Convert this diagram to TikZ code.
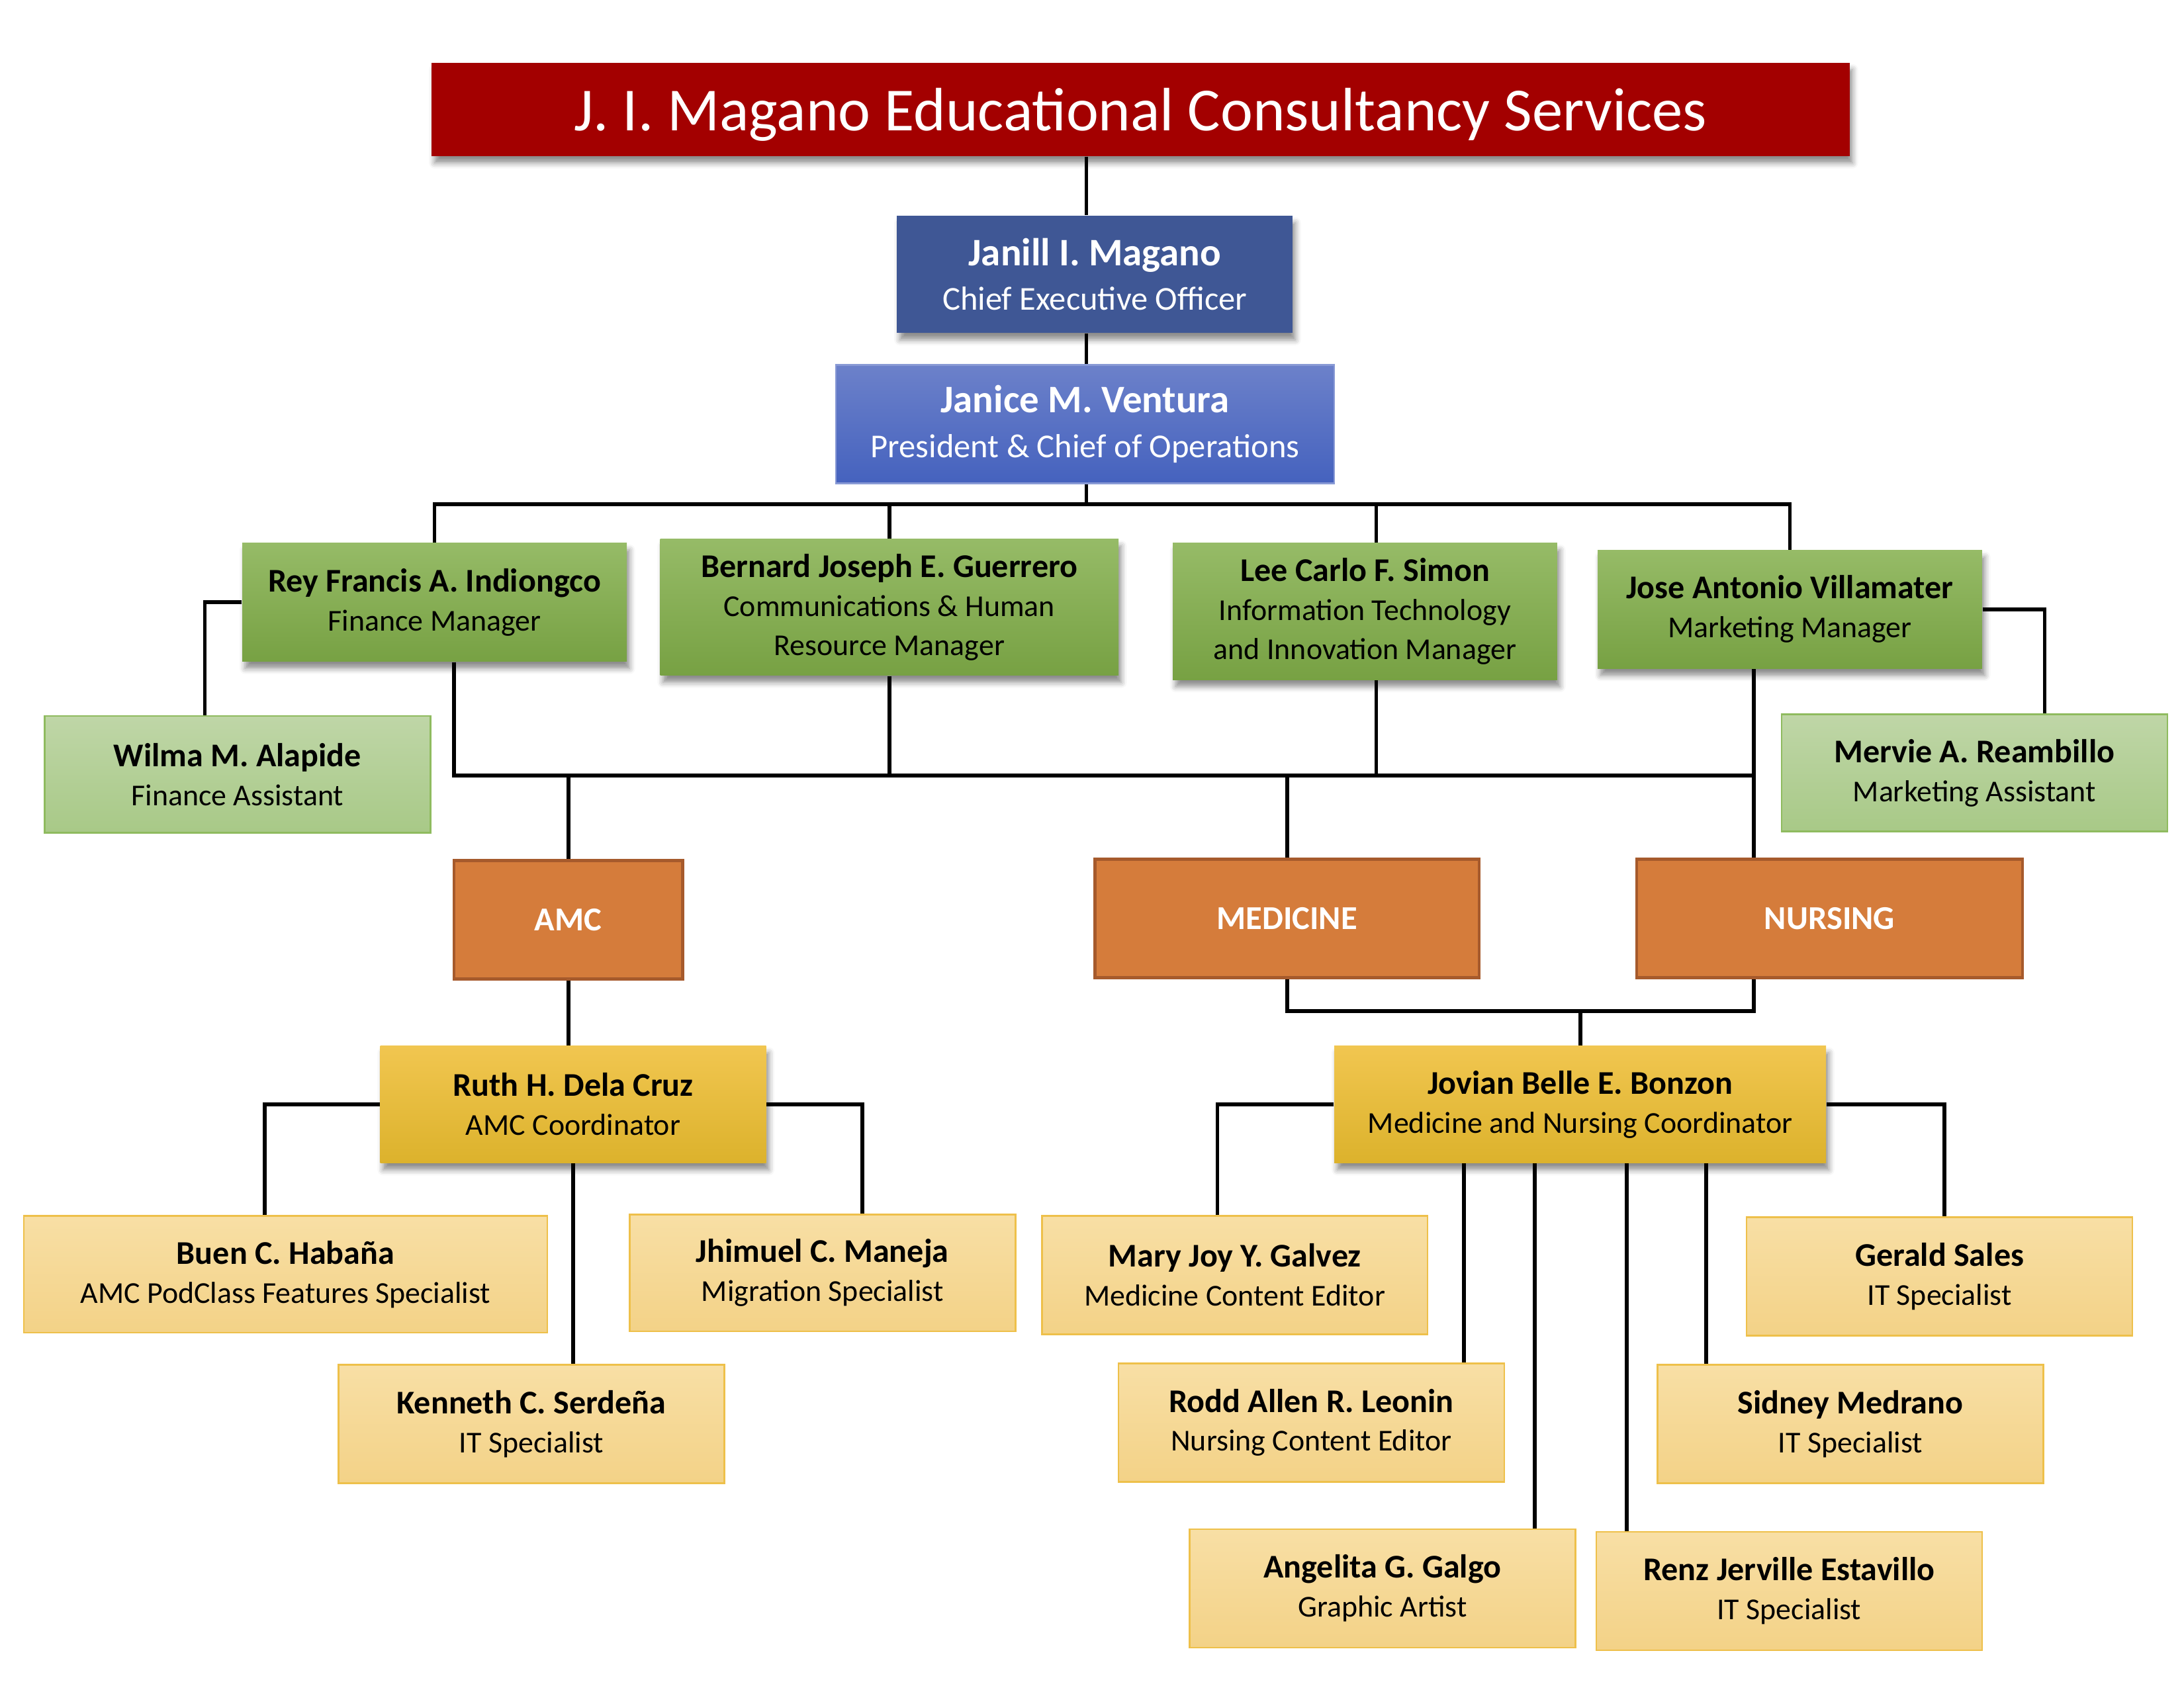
\documentclass[tikz,border=0pt]{standalone}
\usepackage{fontspec}
\setmainfont{Carlito}
\usetikzlibrary{shadows.blur,backgrounds}

\definecolor{titlered}{HTML}{A30000}
\definecolor{ceoblue}{HTML}{3F5795}
\definecolor{prestop}{HTML}{6C81CA}
\definecolor{presbot}{HTML}{4562BE}
\definecolor{mgrtop}{HTML}{96BB67}
\definecolor{mgrbot}{HTML}{77A143}
\definecolor{asstop}{HTML}{BFD6A7}
\definecolor{assbot}{HTML}{A8C987}
\definecolor{assline}{HTML}{8FBB5F}
\definecolor{deptfill}{HTML}{D57C3B}
\definecolor{deptline}{HTML}{A65A2C}
\definecolor{coortop}{HTML}{F1C650}
\definecolor{coorbot}{HTML}{DCB22C}
\definecolor{stafftop}{HTML}{F8DFA5}
\definecolor{staffbot}{HTML}{F3D287}
\definecolor{staffline}{HTML}{EEC04A}

\newcommand{\who}[2]{{\fontsize{11.9}{14}\selectfont\bfseries #1}\\#2}
\newcommand{\bigwho}[2]{{\fontsize{14}{16}\selectfont\bfseries #1}\\#2}

\tikzset{
  wh/.style 2 args={minimum width={#1*0.5pt}, minimum height={#2*0.5pt}},
  box/.style={rectangle, align=center, inner sep=1pt,
    font=\fontsize{10.9}{14}\selectfont},
  lift/.style={blur shadow={shadow xshift=1pt, shadow yshift=-2.5pt,
    shadow blur radius=2pt, shadow opacity=45}},
  titlebox/.style={box, lift, fill=titlered, text=white, text depth=0pt,
    font=\fontsize{22}{26}\selectfont},
  ceobox/.style={box, lift, fill=ceoblue, text=white,
    font=\fontsize{12}{16}\selectfont},
  presbox/.style={box, top color=prestop, bottom color=presbot,
    draw=prestop!80!white, line width=0.6pt, text=white,
    font=\fontsize{12}{16}\selectfont},
  mgrbox/.style={box, lift, top color=mgrtop, bottom color=mgrbot},
  assbox/.style={box, top color=asstop, bottom color=assbot,
    draw=assline, line width=0.6pt},
  deptbox/.style={box, fill=deptfill, draw=deptline, line width=1.1pt,
    text=white, font=\fontsize{12}{14}\selectfont\bfseries},
  coorbox/.style={box, lift, top color=coortop, bottom color=coorbot},
  staffbox/.style={box, top color=stafftop, bottom color=staffbot,
    draw=staffline, line width=0.6pt},
  link/.style={draw=black, line width=1.35pt},
}

\begin{document}
\begin{tikzpicture}[x=0.5pt, y=-0.5pt]
\useasboundingbox (0,0) rectangle (1568,1212);

% top of the chart
\node[titlebox, wh={1018}{67}] (title) at (819,78.5) {J. I. Magano Educational Consultancy Services};
\node[ceobox, wh={284}{84}] (ceo) at (786,197) {\bigwho{Janill I. Magano}{Chief Executive Officer}};
\node[presbox, wh={358}{85}] (pres) at (779,304.5) {\bigwho{Janice M. Ventura}{President \& Chief of Operations}};

% managers and assistants
\node[mgrbox, wh={276}{85}] (rey) at (312,432.5) {\who{Rey Francis A. Indiongco}{Finance Manager}};
\node[mgrbox, wh={329}{98}] (bern) at (638.5,436) {\who{Bernard Joseph E. Guerrero}{Communications \& Human\\Resource Manager}};
\node[mgrbox, wh={276}{98}] (lee) at (980,439) {\who{Lee Carlo F. Simon}{Information Technology\\and Innovation Manager}};
\node[mgrbox, wh={276}{85}] (jose) at (1285,437.5) {\who{Jose Antonio Villamater}{Marketing Manager}};
\node[assbox, wh={277}{84}] (wilma) at (170.5,556) {\who{Wilma M. Alapide}{Finance Assistant}};
\node[assbox, wh={277}{84}] (mervie) at (1417.5,555) {\who{Mervie A. Reambillo}{Marketing Assistant}};

% departments
\node[deptbox, wh={164}{85}] (amc) at (408,660.5) {AMC};
\node[deptbox, wh={276}{85}] (med) at (924,659.5) {MEDICINE};
\node[deptbox, wh={277}{85}] (nurs) at (1313.5,659.5) {NURSING};

% coordinators
\node[coorbox, wh={277}{84}] (ruth) at (411.5,793) {\who{Ruth H. Dela Cruz}{AMC Coordinator}};
\node[coorbox, wh={353}{84}] (jovian) at (1134.5,793) {\who{Jovian Belle E. Bonzon}{Medicine and Nursing Coordinator}};

% staff
\node[staffbox, wh={376}{84}] (buen) at (205,915) {\who{Buen C. Habaña}{AMC PodClass Features Specialist}};
\node[staffbox, wh={277}{84}] (jhim) at (590.5,914) {\who{Jhimuel C. Maneja}{Migration Specialist}};
\node[staffbox, wh={277}{85}] (kenn) at (381.5,1022.5) {\who{Kenneth C. Serdeña}{IT Specialist}};
\node[staffbox, wh={277}{85}] (mary) at (886.5,915.5) {\who{Mary Joy Y. Galvez}{Medicine Content Editor}};
\node[staffbox, wh={277}{85}] (gerald) at (1392.5,916.5) {\who{Gerald Sales}{IT Specialist}};
\node[staffbox, wh={277}{85}] (rodd) at (941.5,1021.5) {\who{Rodd Allen R. Leonin}{Nursing Content Editor}};
\node[staffbox, wh={277}{85}] (sidney) at (1328.5,1022.5) {\who{Sidney Medrano}{IT Specialist}};
\node[staffbox, wh={277}{85}] (ang) at (992.5,1140.5) {\who{Angelita G. Galgo}{Graphic Artist}};
\node[staffbox, wh={277}{85}] (renz) at (1284.5,1142.5) {\who{Renz Jerville Estavillo}{IT Specialist}};

% lines where the connectors run
\coordinate (spine) at (780,0);
\coordinate (bus1) at (0,362);
\coordinate (bus2) at (0,557);
\coordinate (bus3) at (0,726);
\coordinate (jdrop) at (1259,0);
\coordinate (rdrop) at (326,0);
\coordinate (ldrop) at (988,0);
\coordinate (wline) at (147,0);
\coordinate (mline) at (1468,0);
\coordinate (bline) at (190,0);
\coordinate (jmline) at (619,0);
\coordinate (myline) at (874,0);
\coordinate (gline) at (1396,0);

\begin{scope}[on background layer]
\begin{scope}[link]
\draw (title.south -| spine) -- (ceo.north -| spine);
\draw (ceo.south -| spine) -- (pres.north -| spine);
\draw (pres.south -| spine) -- (bus1 -| spine);
\draw (rey.north) |- (bus1 -| jose.north) -- (jose.north);
\draw (bern.north) -- (bern.north |- bus1);
\draw (lee.north -| ldrop) -- (bus1 -| ldrop);
\draw (rey.west) -| (wilma.north -| wline);
\draw (jose.east) -| (mervie.north -| mline);

\draw (rey.south -| rdrop) |- (bus2 -| jdrop);
\draw (jose.south -| jdrop) -- (nurs.north -| jdrop);
\draw (bern.south) -- (bern.south |- bus2);
\draw (lee.south -| ldrop) -- (bus2 -| ldrop);
\draw (amc.north) -- (amc.north |- bus2);
\draw (med.north) -- (med.north |- bus2);

\draw (amc.south) -- (amc.south |- ruth.north);
\draw (med.south) |- (bus3 -| jdrop) -- (nurs.south -| jdrop);
\draw (jovian.north) -- (jovian.north |- bus3);

\draw (ruth.west) -| (buen.north -| bline);
\draw (ruth.east) -| (jhim.north -| jmline);
\draw (ruth.south) -- (ruth.south |- kenn.north);
\draw (jovian.west) -| (mary.north -| myline);
\draw (jovian.east) -| (gerald.north -| gline);
\foreach \xx/\nn in {1051/rodd, 1102/ang, 1168/renz, 1225/sidney} {
  \coordinate (drop) at (\xx,0);
  \draw (jovian.south -| drop) -- (\nn.north -| drop);
}
\end{scope}
\end{scope}
\end{tikzpicture}
\end{document}
